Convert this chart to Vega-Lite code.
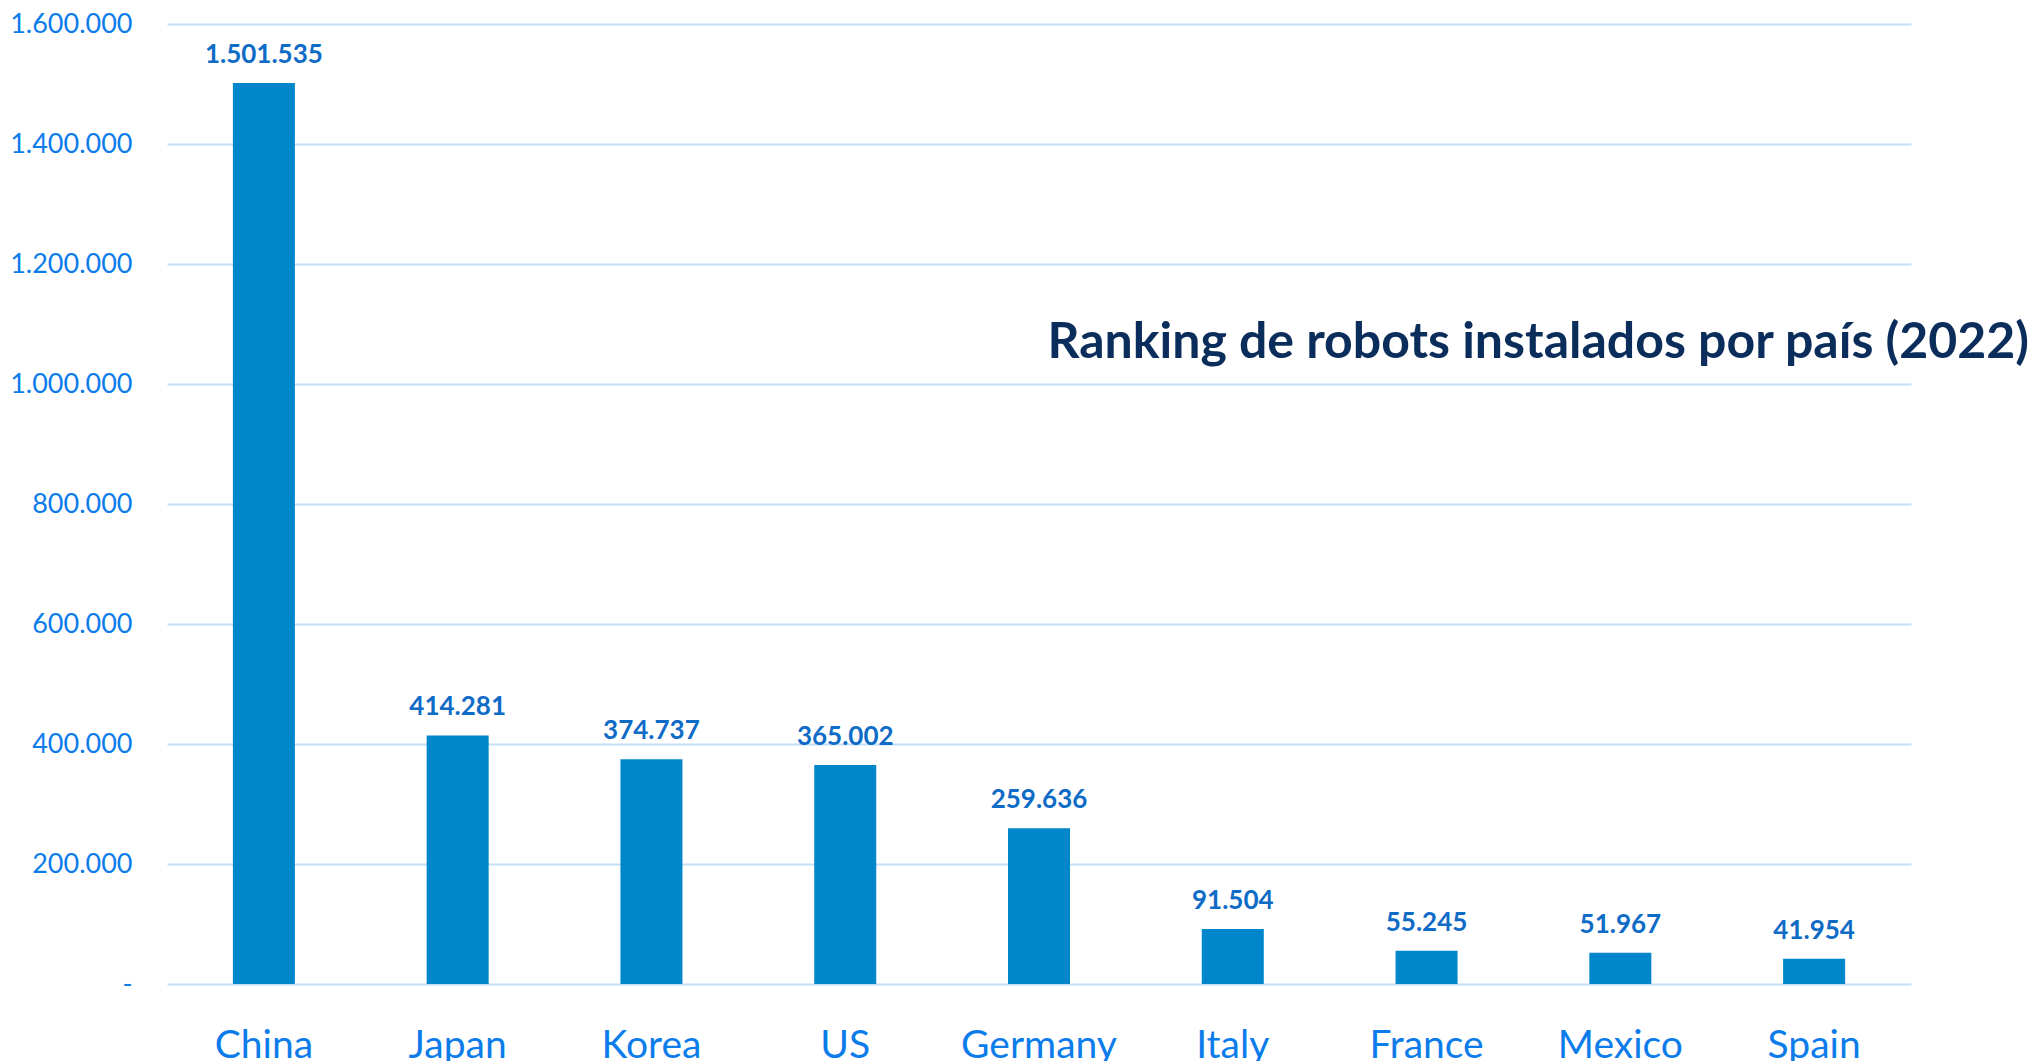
{
  "$schema": "https://vega.github.io/schema/vega-lite/v6.json",
  "autosize": {"type": "none"},
  "width": 1744,
  "height": 960,
  "padding": {"left": 167, "top": 24, "right": 122, "bottom": 77},
  "background": "white",
  "title": {
    "text": "Ranking de robots instalados por país (2022)",
    "orient": "top",
    "anchor": "end",
    "frame": "group",
    "baseline": "alphabetic",
    "offset": 0,
    "dy": 398,
    "dx": 118,
    "font": "Lato",
    "fontSize": 50,
    "fontWeight": "bold",
    "color": "#0B2D5B"
  },
  "config": {
    "view": {"stroke": null},
    "locale": {"number": {"decimal": ",", "thousands": ".", "grouping": [3], "currency": ["", " €"]}}
  },
  "data": {
    "values": [
      {"country": "China", "robots": 1501535},
      {"country": "Japan", "robots": 414281},
      {"country": "Korea", "robots": 374737},
      {"country": "US", "robots": 365002},
      {"country": "Germany", "robots": 259636},
      {"country": "Italy", "robots": 91504},
      {"country": "France", "robots": 55245},
      {"country": "Mexico", "robots": 51967},
      {"country": "Spain", "robots": 41954}
    ]
  },
  "encoding": {
    "x": {
      "field": "country",
      "type": "nominal",
      "sort": null,
      "scale": {"paddingInner": 0.68, "paddingOuter": 0.34},
      "axis": {
        "title": null,
        "domain": false,
        "ticks": false,
        "labelAngle": 0,
        "labelFont": "Lato",
        "labelFontSize": 39,
        "labelColor": "#0C7CEB",
        "labelPadding": 42,
        "grid": false
      }
    },
    "y": {
      "field": "robots",
      "type": "quantitative",
      "scale": {"domain": [0, 1600000], "nice": false},
      "axis": {
        "title": null,
        "domain": false,
        "ticks": false,
        "values": [0, 200000, 400000, 600000, 800000, 1000000, 1200000, 1400000, 1600000],
        "format": ",d",
        "labelExpr": "datum.value == 0 ? '-\u00a0\u00a0' : datum.label",
        "labelFont": "Lato",
        "labelFontSize": 27,
        "labelColor": "#0C7CEB",
        "labelPadding": 35,
        "gridColor": "#C2DFF8",
        "gridWidth": 2
      }
    }
  },
  "layer": [
    {"mark": {"type": "bar", "color": "#0086CA"}},
    {
      "mark": {
        "type": "text",
        "baseline": "alphabetic",
        "dy": -20,
        "font": "Lato",
        "fontSize": 26,
        "fontWeight": "bold",
        "color": "#0E6BC6"
      },
      "encoding": {"text": {"field": "robots", "type": "quantitative", "format": ",d"}}
    }
  ]
}
